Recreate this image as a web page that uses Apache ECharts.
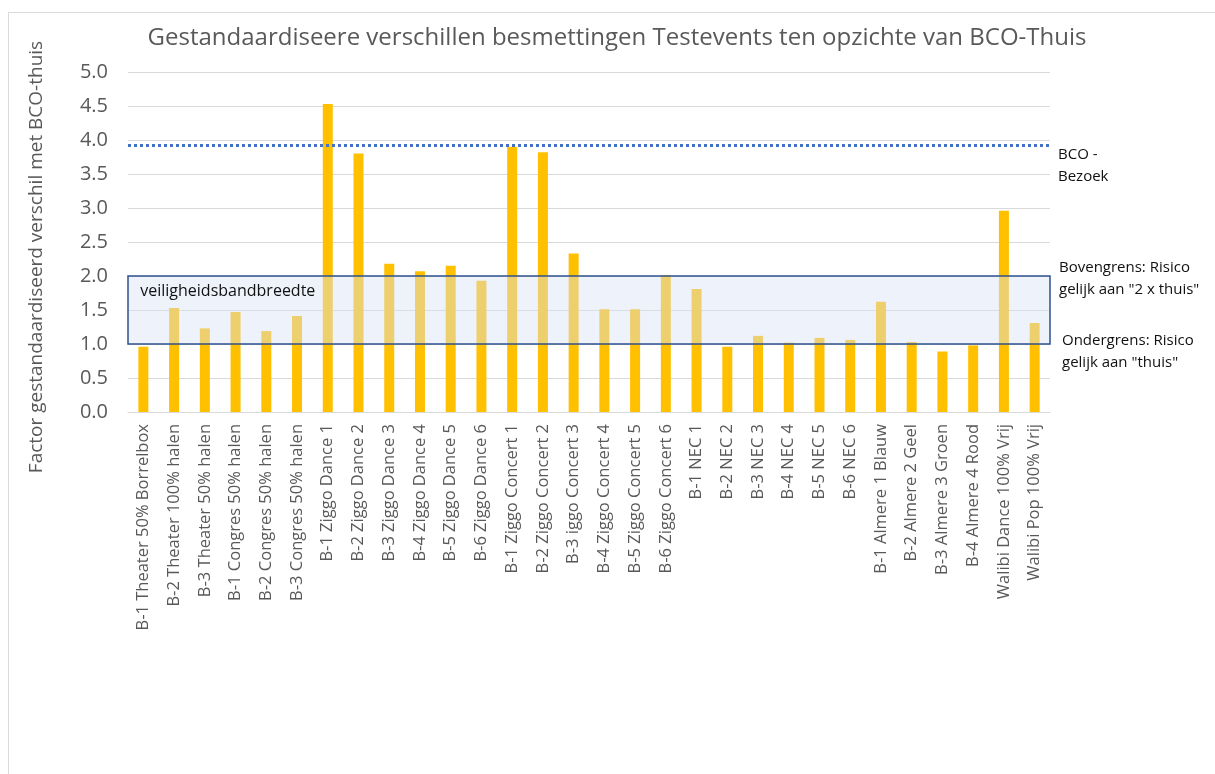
<!DOCTYPE html>
<html>
<head>
	<meta charset="utf-8" />
	<title>Testevents</title>
	<script src="https://cdn.jsdelivr.net/npm/echarts@6/dist/echarts.min.js"></script>
	<style>
		html, body {margin:0;padding:0;overflow:hidden;background:#fff;}
		#chart {width:1215px;height:774px;}
		#frame {position:absolute;left:8px;top:12px;width:1300px;height:900px;border:1px solid #d9d9d9;pointer-events:none;}
	</style>
</head>
<body>
	<div id="chart"></div>
	<div id="frame"></div>
	<script>
		var categories = [
			'B-1 Theater 50% Borrelbox', 'B-2 Theater 100% halen', 'B-3 Theater 50% halen',
			'B-1 Congres 50% halen', 'B-2 Congres 50% halen', 'B-3 Congres 50% halen',
			'B-1 Ziggo Dance 1', 'B-2 Ziggo Dance 2', 'B-3 Ziggo Dance 3', 'B-4 Ziggo Dance 4',
			'B-5 Ziggo Dance 5', 'B-6 Ziggo Dance 6',
			'B-1 Ziggo Concert 1', 'B-2 Ziggo Concert 2', 'B-3 iggo Concert 3', 'B-4 Ziggo Concert 4',
			'B-5 Ziggo Concert 5', 'B-6 Ziggo Concert 6',
			'B-1 NEC 1', 'B-2 NEC 2', 'B-3 NEC 3', 'B-4 NEC 4', 'B-5 NEC 5', 'B-6 NEC 6',
			'B-1 Almere 1 Blauw', 'B-2 Almere 2 Geel', 'B-3 Almere 3 Groen', 'B-4 Almere 4 Rood',
			'Walibi Dance 100% Vrij', 'Walibi Pop 100% Vrij'
		];

		var factors = [
			0.96, 1.53, 1.23, 1.47, 1.19, 1.41,
			4.53, 3.80, 2.18, 2.07, 2.15, 1.93,
			3.90, 3.82, 2.33, 1.51, 1.51, 2.01,
			1.81, 0.96, 1.12, 1.02, 1.09, 1.06,
			1.62, 1.03, 0.89, 0.98,
			2.96, 1.31
		];

		var bcoBezoek = 3.92;     // BCO - Bezoek
		var bandLow = 1.0;        // ondergrens
		var bandHigh = 2.0;       // bovengrens

		var chart = echarts.init(document.getElementById('chart'));

		var grey = '#595959';
		var font = 'Open Sans';

		var option = {
			animation: false,
			textStyle: {fontFamily: font},
			title: {
				text: 'Gestandaardiseere verschillen besmettingen Testevents ten opzichte van BCO-Thuis',
				left: 617,
				top: 26,
				padding: 0,
				textAlign: 'center',
				textStyle: {fontFamily: font, fontSize: 24, fontWeight: 'normal', color: grey}
			},
			grid: {left: 128, right: 165, top: 72, bottom: 362},
			xAxis: {
				type: 'category',
				data: categories,
				axisTick: {show: false},
				axisLine: {lineStyle: {color: '#d9d9d9', width: 1}},
				axisLabel: {rotate: 90, interval: 0, margin: 12, fontSize: 16.5, color: grey, fontFamily: font}
			},
			yAxis: {
				type: 'value',
				min: 0,
				max: 5,
				interval: 0.5,
				name: 'Factor gestandaardiseerd verschil met BCO-thuis',
				nameLocation: 'middle',
				nameRotate: 90,
				nameGap: 82,
				nameTextStyle: {fontSize: 19, color: grey, fontFamily: font, padding: [0, 30, 0, 0]},
				axisLabel: {margin: 20, fontSize: 20, color: grey, fontFamily: font, formatter: v => v.toFixed(1)},
				splitLine: {lineStyle: {color: '#d9d9d9', width: 1}}
			},
			series: [
				{
					type: 'bar',
					data: factors,
					barWidth: 10,
					itemStyle: {color: '#ffc000'},
					markArea: {
						z: 5,
						silent: true,
						itemStyle: {color: 'rgba(218,227,243,0.45)', borderColor: '#2f528f', borderWidth: 1.5},
						label: {
							position: 'insideTopLeft',
							distance: 5,
							offset: [8, 3],
							fontSize: 16,
							color: '#111',
							fontFamily: font
						},
						data: [[{yAxis: bandLow, name: 'veiligheidsbandbreedte'}, {yAxis: bandHigh}]]
					},
					markLine: {
						z: 6,
						silent: true,
						symbol: 'none',
						data: [
							{
								yAxis: bcoBezoek,
								lineStyle: {color: '#4472c4', width: 3, type: [3, 3]},
								label: {formatter: 'BCO -\nBezoek', offset: [0, 20]}
							},
							{
								yAxis: bandHigh,
								lineStyle: {color: 'rgba(0,0,0,0)', width: 0},
								label: {formatter: 'Bovengrens: Risico\ngelijk aan "2 x thuis"', offset: [1, 3]}
							},
							{
								yAxis: bandLow,
								lineStyle: {color: 'rgba(0,0,0,0)', width: 0},
								label: {formatter: 'Ondergrens: Risico\ngelijk aan "thuis"', offset: [4, 8]}
							}
						],
						label: {
							position: 'end',
							distance: 8,
							fontSize: 15,
							lineHeight: 22,
							color: '#111',
							fontFamily: font,
							align: 'left'
						}
					}
				}
			]
		};

		chart.setOption(option);
	</script>
</body>
</html>
